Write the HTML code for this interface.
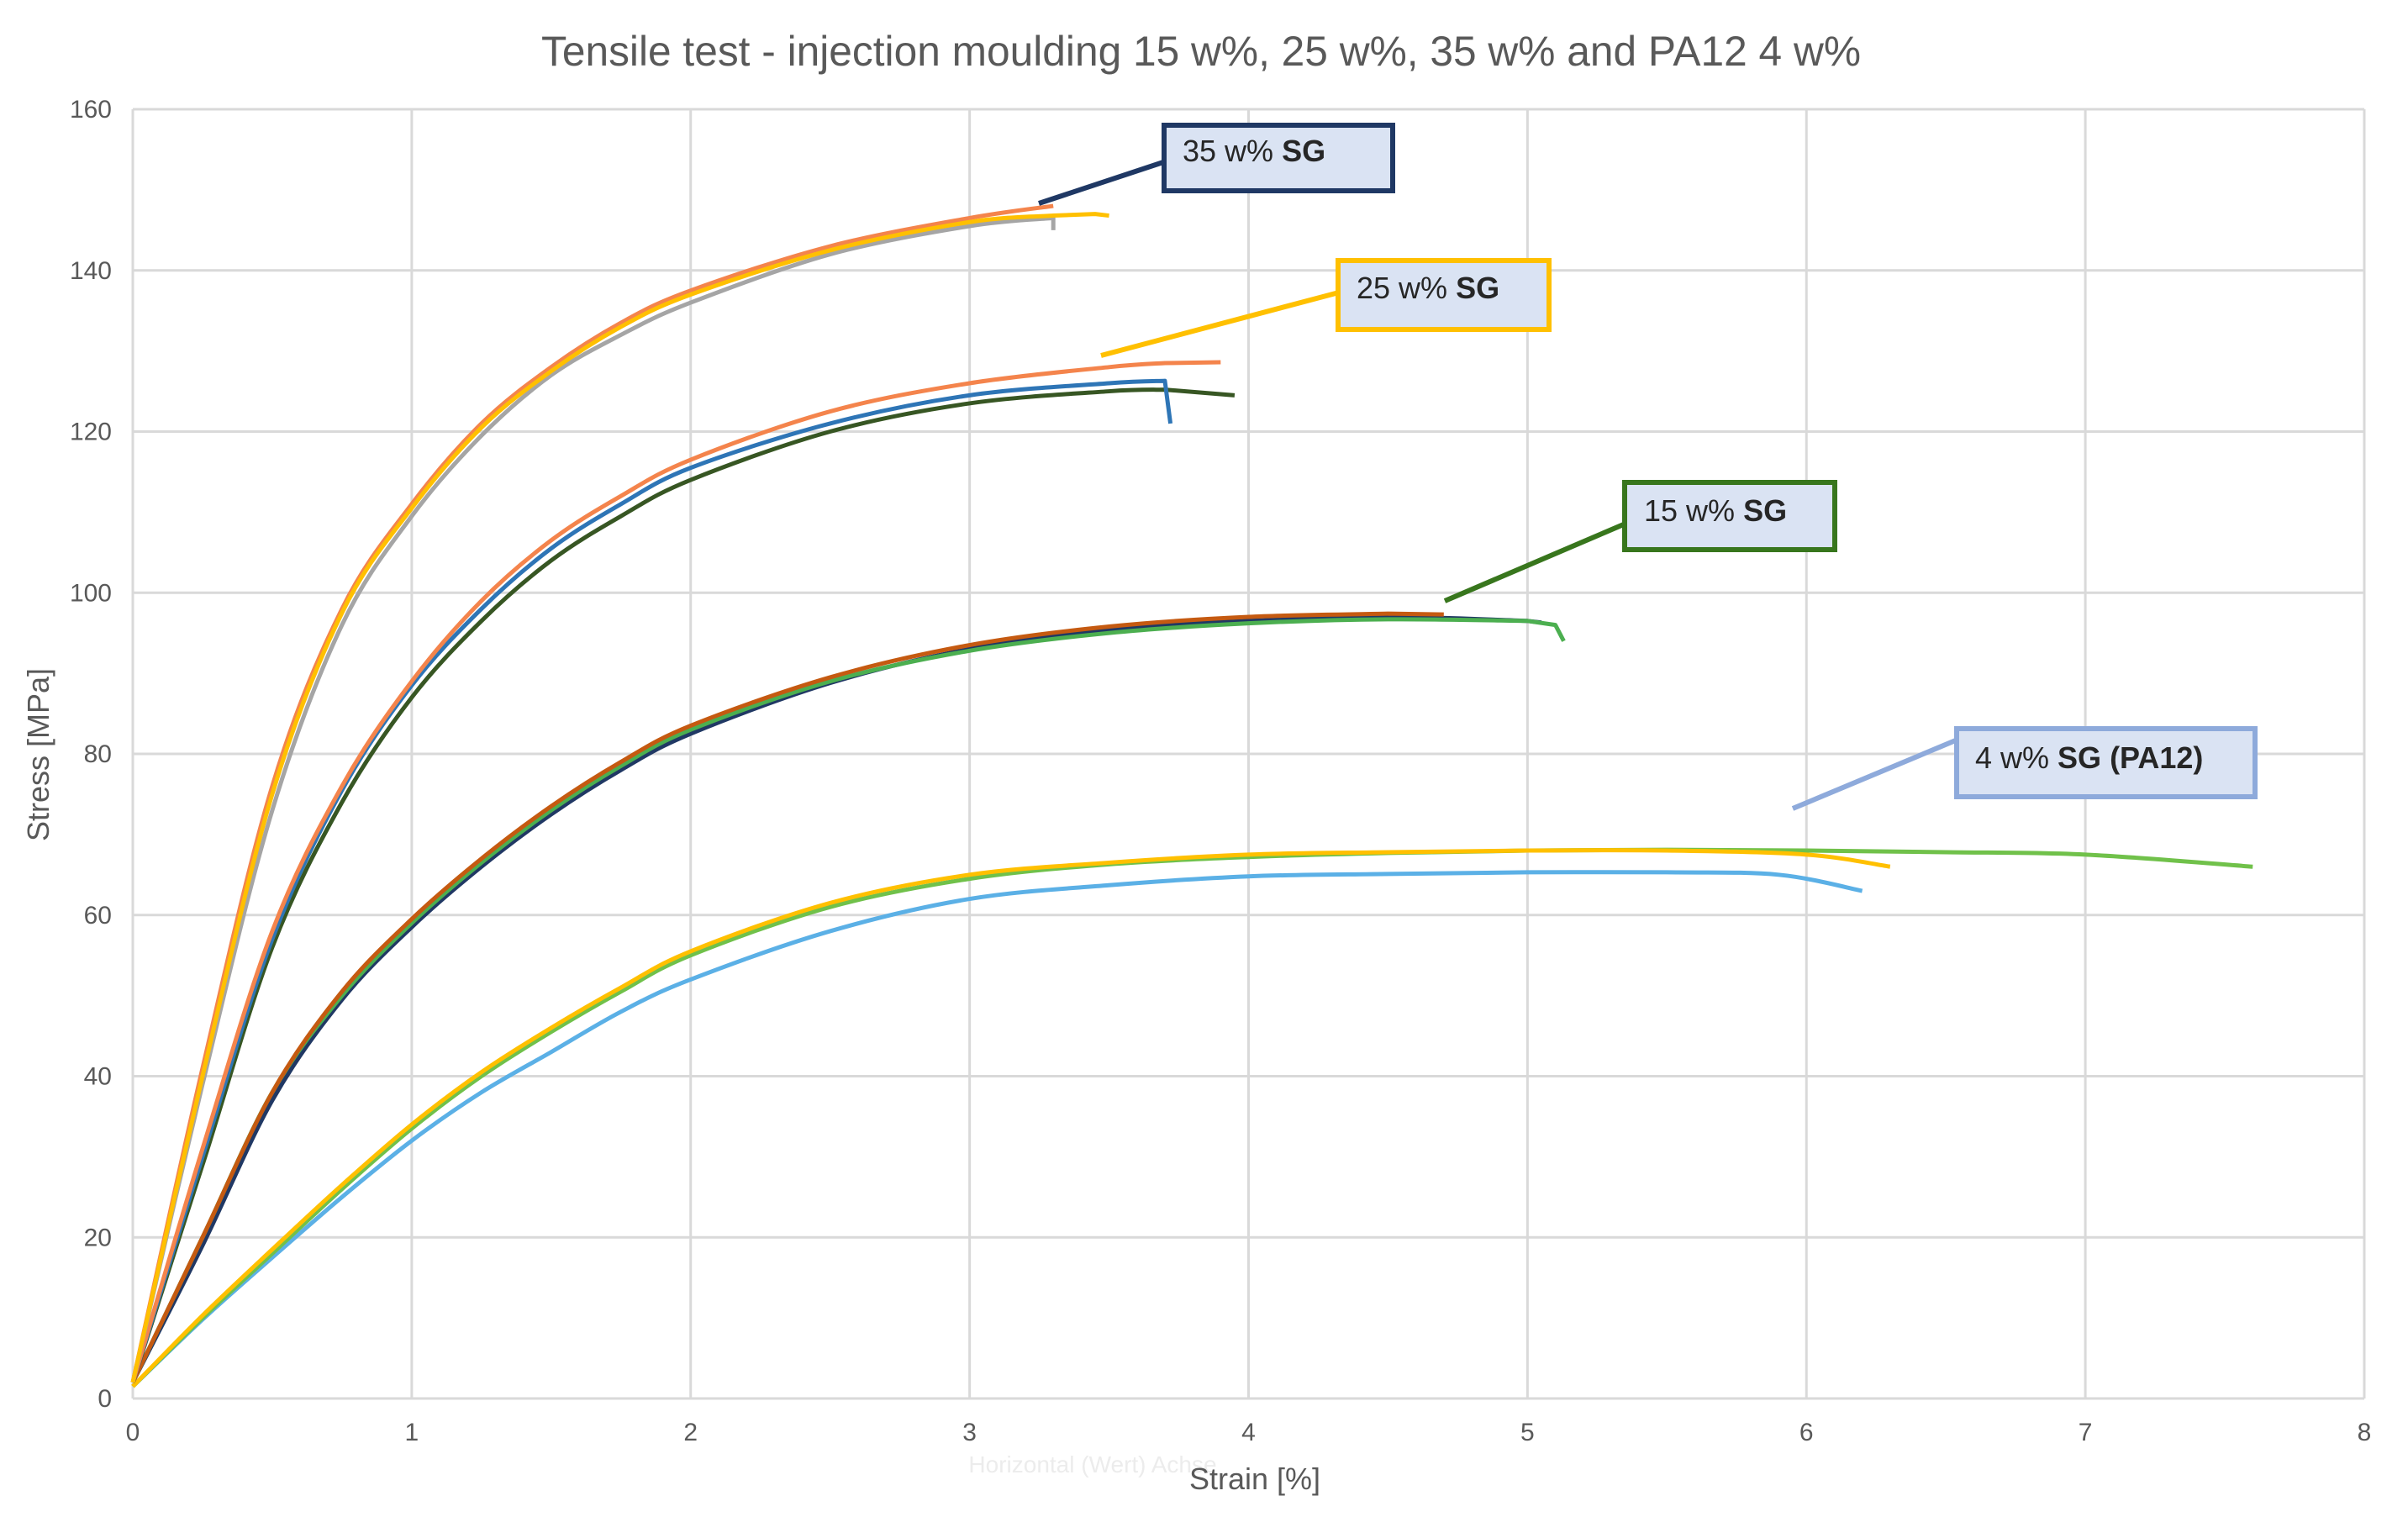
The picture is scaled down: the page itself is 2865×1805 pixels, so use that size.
<!DOCTYPE html>
<html><head><meta charset="utf-8"><style>
html,body{margin:0;padding:0;background:#fff;}
svg{display:block;font-family:"Liberation Sans",sans-serif;}
</style></head><body>
<svg id="chart" width="2865" height="1805" viewBox="0 0 2865 1805" xmlns="http://www.w3.org/2000/svg">
<rect x="0" y="0" width="2865" height="1805" fill="#fff"/>
<text x="1429" y="78" text-anchor="middle" font-size="50" fill="#595959" textLength="1570" lengthAdjust="spacingAndGlyphs">Tensile test - injection moulding 15 w%, 25 w%, 35 w% and PA12  4 w%</text>
<g id="grid"></g>
<g id="ticks"></g>
<g id="series"></g>
<text x="1300" y="1752" text-anchor="middle" font-size="28" fill="#ececec">Horizontal (Wert) Achse</text>
<text x="1493" y="1772" text-anchor="middle" font-size="36" fill="#595959">Strain [%]</text>
<text x="0" y="0" transform="translate(58,898) rotate(-90)" text-anchor="middle" font-size="36" fill="#595959">Stress [MPa]</text>
<g id="annotations">
 <line x1="1236" y1="242" x2="1387" y2="192" stroke="#1f3864" stroke-width="6"/>
 <rect x="1385" y="149" width="272" height="78" fill="#dae3f3" stroke="#1f3864" stroke-width="6"/>
 <text x="1407" y="192" font-size="36" fill="#262626">35 w% <tspan font-weight="bold">SG</tspan></text>
 <line x1="1310" y1="423" x2="1593" y2="348" stroke="#ffc000" stroke-width="6"/>
 <rect x="1592" y="310" width="251" height="82" fill="#dae3f3" stroke="#ffc000" stroke-width="6"/>
 <text x="1614" y="355" font-size="36" fill="#262626">25 w% <tspan font-weight="bold">SG</tspan></text>
 <line x1="1719" y1="715" x2="1934" y2="623" stroke="#38761d" stroke-width="6"/>
 <rect x="1933" y="574" width="250" height="80" fill="#dae3f3" stroke="#38761d" stroke-width="6"/>
 <text x="1956" y="620" font-size="36" fill="#262626">15 w% <tspan font-weight="bold">SG</tspan></text>
 <line x1="2133" y1="962" x2="2329" y2="880" stroke="#8eaadb" stroke-width="6"/>
 <rect x="2328" y="867" width="355" height="81" fill="#dae3f3" stroke="#8eaadb" stroke-width="6"/>
 <text x="2350" y="914" font-size="36" fill="#262626">4 w% <tspan font-weight="bold">SG (PA12)</tspan></text>
</g>
</svg>
<script>
// axis ticks
const xTicks = [0,1,2,3,4,5,6,7,8];
const yTicks = [0,20,40,60,80,100,120,140,160];
// series data (strain %, stress MPa)
const s35x = [0,0.25,0.5,0.75,1,1.25,1.5,1.75,2,2.5,3,3.3];
const s35orange = [2,41,76,98,111,121,128,133.5,137.5,143,146.5,148];
const s35yellow = [2,40,75,97.5,110.5,120.5,127.5,133,137,142.5,146,146.8];
const s35grey = [2,39,73,96,109.5,119.5,127,132,136,142,145.5,146.5];
const s25x = [0,0.25,0.5,0.75,1,1.25,1.5,1.75,2,2.5,3,3.5,3.7];
const s25orange = [2,31,58,76,89,99,106.5,112,116.5,122.5,126,128,128.5];
const s25blue = [2,30,57,75.5,88.5,98,105.5,111,115.5,121,124.5,126,126.3];
const s25green = [2,29,56,74,87,96.5,104,109.5,114,120,123.5,125,125.2];
const s15x = [0,0.25,0.5,0.75,1,1.25,1.5,1.75,2,2.5,3,3.5,4,4.5,5];
const s15orange = [2,20,38,50.5,59.5,67,73.5,79,83.5,89.5,93.5,95.8,97,97.4,97];
const s15navy = [2,19,37,49.5,58.5,66,72.5,78,82.5,88.8,93,95.4,96.5,97,96.5];
const s15green = [2,20,38,50,59,66.5,73,78.5,83,89,92.8,95,96.2,96.7,96.5];
const s4x = [0,0.25,0.5,0.75,1,1.25,1.5,1.75,2,2.5,3,3.5,4,4.5,5,5.5,6,6.5,7,7.6];
const s4green = [1.5,10,18,26,33.5,40,45.5,50.5,55,61,64.5,66.3,67.2,67.7,68,68.1,68,67.8,67.5,66];
const s4yellowX = [0,0.25,0.5,0.75,1,1.25,1.5,1.75,2,2.5,3,3.5,4,4.5,5,5.5,6,6.3];
const s4yellow = [1.5,10.3,18.5,26.5,34,40.5,46,51,55.5,61.5,65,66.5,67.5,67.8,68,68,67.5,66];
const s4blueX = [0,0.25,0.5,0.75,1,1.25,1.5,1.75,2,2.5,3,3.5,4,4.5,5,5.5,5.9,6.2];
const s4blue = [1.5,9.8,17.5,25,32,38,43,48,52,58,62,63.7,64.8,65.1,65.3,65.3,65,63];

const X0=158, X1=2813, Y0=1664, Y1=130;
const xs = v => X0 + (v/8)*(X1-X0);
const ys = v => Y0 - (v/160)*(Y0-Y1);
const NS='http://www.w3.org/2000/svg';
const grid=document.getElementById('grid'), ticks=document.getElementById('ticks'), ser=document.getElementById('series');

xTicks.forEach(t=>{
  const l=document.createElementNS(NS,'line');
  
  
  l.setAttribute('x1',xs(t));l.setAttribute('x2',xs(t));l.setAttribute('y1',Y1);l.setAttribute('y2',Y0);
  l.setAttribute('stroke','#d9d9d9');l.setAttribute('stroke-width','3');grid.appendChild(l);
  const tx=document.createElementNS(NS,'text');
  
  
  tx.setAttribute('x',xs(t));tx.setAttribute('y',Y0+50);tx.setAttribute('text-anchor','middle');
  tx.setAttribute('font-size','30');tx.setAttribute('fill','#595959');tx.textContent=t;ticks.appendChild(tx);
});
yTicks.forEach(t=>{
  const l=document.createElementNS(NS,'line');
  
  
  l.setAttribute('x1',X0);l.setAttribute('x2',X1);l.setAttribute('y1',ys(t));l.setAttribute('y2',ys(t));
  l.setAttribute('stroke','#d9d9d9');l.setAttribute('stroke-width','3');grid.appendChild(l);
  const tx=document.createElementNS(NS,'text');
  
  
  tx.setAttribute('x',X0-25);tx.setAttribute('y',ys(t)+10);tx.setAttribute('text-anchor','end');
  tx.setAttribute('font-size','30');tx.setAttribute('fill','#595959');tx.textContent=t;ticks.appendChild(tx);
});

function pathFor(xa,ya,tx,ty){
  const p=xa.map((x,i)=>[xs(x),ys(ya[i])]);
  let d='M'+p[0][0]+','+p[0][1];
  for(let i=0;i<p.length-1;i++){
    const a=p[i-1]||p[i], b=p[i], c=p[i+1], e=p[i+2]||c;
    d+=' C'+(b[0]+(c[0]-a[0])/6)+','+(b[1]+(c[1]-a[1])/6)+' '+(c[0]-(e[0]-b[0])/6)+','+(c[1]-(e[1]-b[1])/6)+' '+c[0]+','+c[1];
  }
  (tx||[]).forEach((x,i)=>{ d+=' L'+xs(x)+','+ys(ty[i]); });
  return d;
}
function addSeries(name,xa,ya,color,tx,ty){
  const p=document.createElementNS(NS,'path');
  
  
  p.setAttribute('d',pathFor(xa,ya,tx,ty));p.setAttribute('fill','none');
  p.setAttribute('stroke',color);p.setAttribute('stroke-width','5');p.setAttribute('stroke-linejoin','round');
  ser.appendChild(p);
}
addSeries('series-4-blue',s4blueX,s4blue,'#5bb0e6');
addSeries('series-4-green',s4x,s4green,'#70c14a');
addSeries('series-4-yellow',s4yellowX,s4yellow,'#ffc000');
addSeries('series-15-navy',s15x,s15navy,'#203864',[5.05],[96.3]);
addSeries('series-15-green',s15x,s15green,'#4caf50',[5.1,5.13],[96,94]);
addSeries('series-15-orange',s15x.slice(0,14),s15orange.slice(0,14),'#c55a11',[4.7],[97.3]);
addSeries('series-25-green',s25x,s25green,'#375623',[3.95],[124.5]);
addSeries('series-25-blue',s25x,s25blue,'#2e75b6',[3.72],[121]);
addSeries('series-25-orange',s25x,s25orange,'#f4844c',[3.9],[128.6]);
addSeries('series-35-grey',s35x,s35grey,'#a5a5a5',[3.3],[145]);
addSeries('series-35-orange',s35x,s35orange,'#f4844c');
addSeries('series-35-yellow',s35x,s35yellow,'#ffc000',[3.45,3.5],[147,146.8]);
</script>
</body></html>
